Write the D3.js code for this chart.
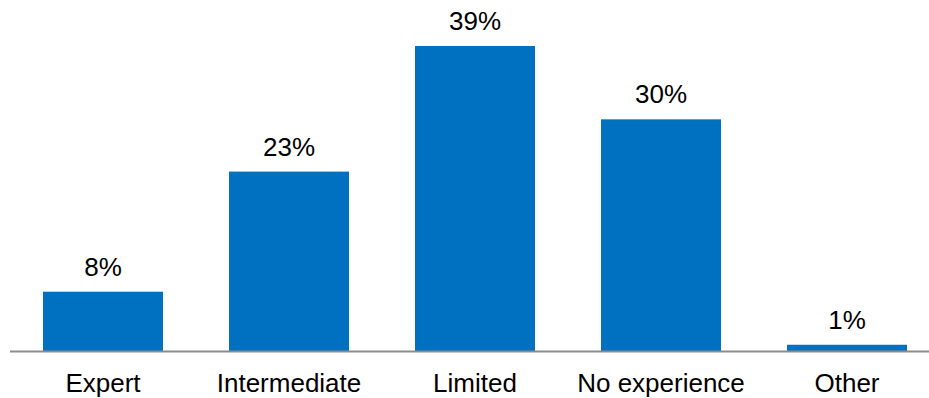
<!DOCTYPE html>
<html>
<head>
<meta charset="utf-8">
<script src="https://cdn.jsdelivr.net/npm/d3@7"></script>
<style>
  html, body { margin: 0; padding: 0; background: #fff; }
  svg { display: block; }
  text { font-family: "Liberation Sans", Arial, sans-serif; fill: #000; }
</style>
</head>
<body>
<svg id="chart" width="929" height="398"></svg>
<script>
const categories = ["Expert", "Intermediate", "Limited", "No experience", "Other"];
const values = [7.6, 23.0, 39.1, 29.7, 0.8];
const valueLabels = ["8%", "23%", "39%", "30%", "1%"];

const W = 929, H = 398;
const baseY = 351;
const svg = d3.select("#chart");

const x = d3.scaleBand()
  .domain(categories)
  .range([10, 940])
  .paddingInner(0.355)
  .paddingOuter(0.1775);

const y = d3.scaleLinear()
  .domain([0, 40])
  .range([baseY, baseY - 312]);

const data = categories.map((c, i) => ({ c, v: values[i], l: valueLabels[i] }));

svg.selectAll("rect.bar")
  .data(data)
  .join("rect")
  .attr("class", "bar")
  .attr("x", d => x(d.c))
  .attr("width", x.bandwidth())
  .attr("y", d => y(d.v))
  .attr("height", d => y(0) - y(d.v))
  .attr("fill", "#0070C0");

// axis line
const axis = d3.axisBottom(x).tickSize(0).tickPadding(0).tickFormat("");
const g = svg.append("g").attr("transform", `translate(0,${baseY})`).call(axis);
g.select(".domain").remove();
g.append("line")
  .attr("x1", 10).attr("x2", W)
  .attr("y1", 0.5).attr("y2", 0.5)
  .attr("stroke", "#8c8c8c")
  .attr("stroke-width", 2);

svg.selectAll("text.cat")
  .data(data)
  .join("text")
  .attr("class", "cat")
  .attr("x", d => x(d.c) + x.bandwidth() / 2)
  .attr("y", 392)
  .attr("text-anchor", "middle")
  .attr("font-size", "26px")
  .text(d => d.c);

svg.selectAll("text.val")
  .data(data)
  .join("text")
  .attr("class", "val")
  .attr("x", d => x(d.c) + x.bandwidth() / 2)
  .attr("y", d => y(d.v) - 16)
  .attr("text-anchor", "middle")
  .attr("font-size", "26px")
  .text(d => d.l);
</script>
</body>
</html>
